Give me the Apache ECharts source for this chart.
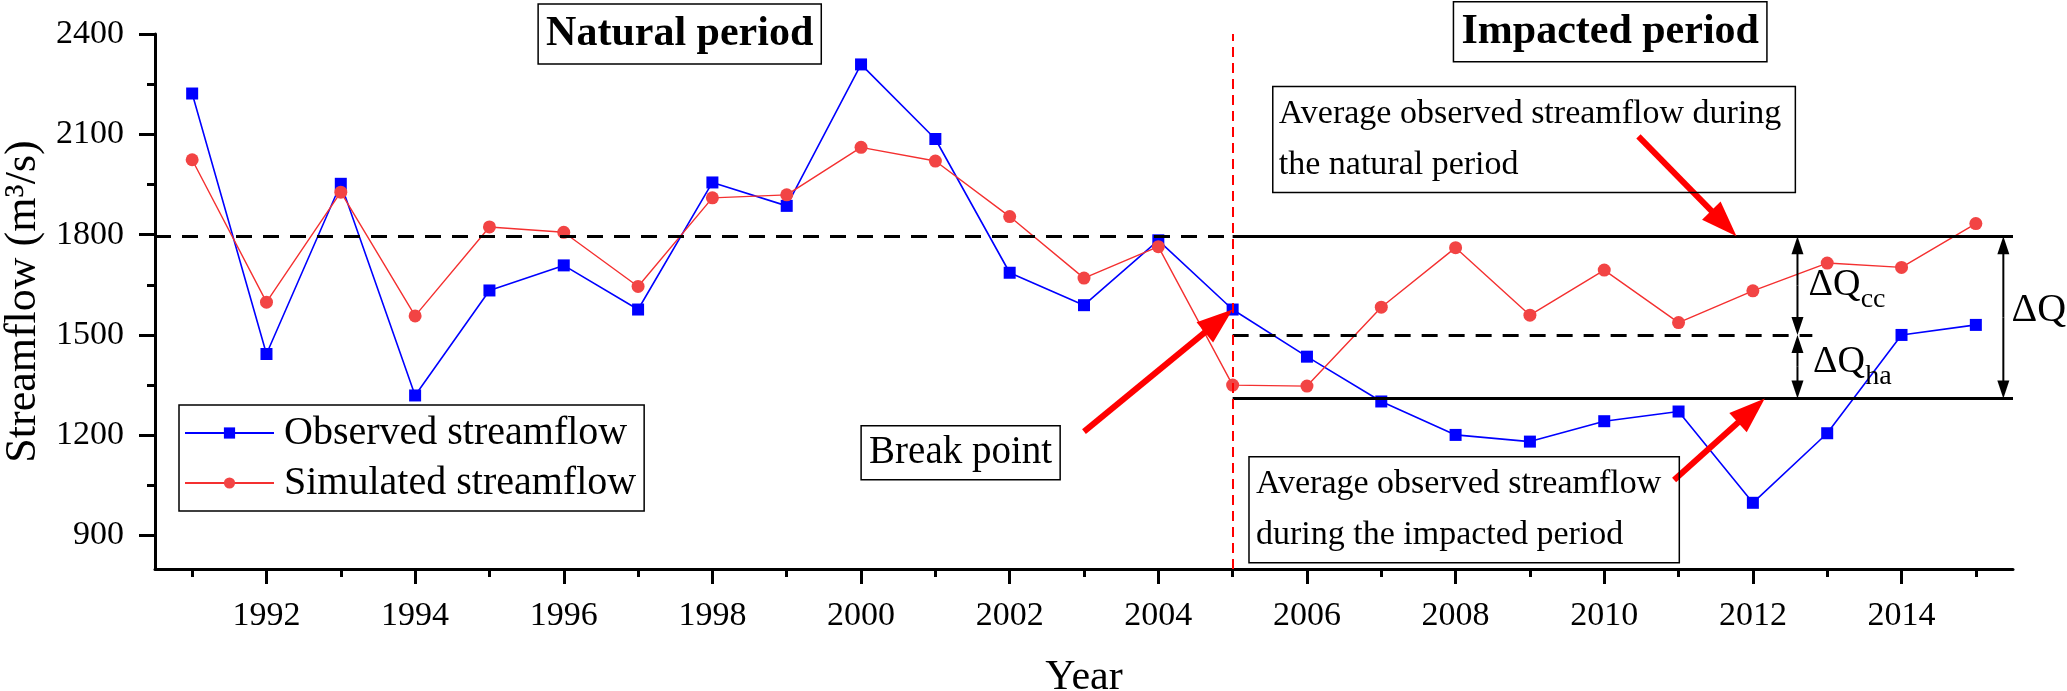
<!DOCTYPE html>
<html><head><meta charset="utf-8">
<script src="https://cdn.jsdelivr.net/npm/echarts@6/dist/echarts.min.js"></script>
<style>html,body{margin:0;padding:0;background:#fff}#c{width:2067px;height:691px}</style>
</head><body><div id="c"></div>
<script>
// ---- data ----
const years = [1991,1992,1993,1994,1995,1996,1997,1998,1999,2000,2001,2002,2003,2004,2005,2006,2007,2008,2009,2010,2011,2012,2013,2014,2015];
const observed = [2222,1443,1952,1319,1633,1708,1576,1956,1886,2309,2086,1686,1589,1783,1576,1435,1301,1201,1181,1242,1271,998,1206,1500,1530];
const simulated = [2024,1598,1927,1557,1823,1807,1645,1910,1919,2061,2020,1854,1670,1764,1350,1347,1583,1761,1559,1694,1537,1632,1715,1702,1833];
const xLabelYears = [1992,1994,1996,1998,2000,2002,2004,2006,2008,2010,2012,2014];
const xMinorYears = [1991,1993,1995,1997,1999,2001,2003,2005,2007,2009,2011,2013,2015];
const yLabelValues = [900,1200,1500,1800,2100,2400];
const yMinorValues = [1050,1350,1650,1950,2250];
const naturalMean = 1795;
const impactedMean = 1310;
const splitLevel = 1500;
const breakYear = 2005;
const xRange = [1990.5, 2015.5];
const yRange = [800, 2400];

const FONT = 'Liberation Serif';
const obsPts = years.map((y, i) => [y, observed[i]]);
const simPts = years.map((y, i) => [y, simulated[i]]);
const plain = v => String(Math.round(v));

const chart = echarts.init(document.getElementById('c'));
chart.setOption({
  animation: false,
  backgroundColor: '#fff',
  textStyle: {fontFamily: FONT, color: '#000'},
  grid: {left: 155, right: 54, top: 34, bottom: 122, containLabel: false, outerBoundsMode: 'none'},
  legend: {
    left: 179, top: 405, orient: 'vertical',
    padding: [8, 8, 8, 5], itemGap: 10,
    itemWidth: 89, itemHeight: 14,
    borderColor: '#000', borderWidth: 1.5, borderRadius: 0,
    textStyle: {fontSize: 40, fontFamily: FONT, color: '#000', lineHeight: 40, padding: [0, 0, 0, 5]},
    data: ['Observed streamflow', 'Simulated streamflow']
  },
  xAxis: [{
    type: 'value', min: xRange[0], max: xRange[1],
    name: 'Year', nameLocation: 'middle', nameGap: 88,
    nameTextStyle: {fontSize: 42, fontFamily: FONT, color: '#000'},
    axisLine: {show: true, onZero: false, lineStyle: {color: '#000', width: 3}},
    axisTick: {show: true, length: 15, lineStyle: {color: '#000', width: 3}, customValues: xLabelYears},
    axisLabel: {fontSize: 34, fontFamily: FONT, color: '#000', margin: 30, customValues: xLabelYears, formatter: plain},
    splitLine: {show: false}
  }, {
    type: 'value', min: xRange[0], max: xRange[1], position: 'bottom',
    axisLine: {show: false},
    axisTick: {show: true, length: 8, lineStyle: {color: '#000', width: 3}, customValues: xMinorYears},
    axisLabel: {show: false},
    splitLine: {show: false}
  }],
  yAxis: [{
    type: 'value', min: yRange[0], max: yRange[1],
    name: 'Streamflow (m³/s)', nameLocation: 'middle', nameGap: 105, nameRotate: 90,
    nameTextStyle: {fontSize: 44, fontFamily: FONT, color: '#000'},
    axisLine: {show: true, onZero: false, lineStyle: {color: '#000', width: 3}},
    axisTick: {show: true, length: 16, lineStyle: {color: '#000', width: 3}, customValues: yLabelValues},
    axisLabel: {fontSize: 34, fontFamily: FONT, color: '#000', margin: 31, customValues: yLabelValues, formatter: plain},
    splitLine: {show: false}
  }, {
    type: 'value', min: yRange[0], max: yRange[1], position: 'left',
    axisLine: {show: false},
    axisTick: {show: true, length: 8, lineStyle: {color: '#000', width: 3}, customValues: yMinorValues},
    axisLabel: {show: false},
    splitLine: {show: false}
  }],
  series: [{
    name: 'Observed streamflow', type: 'line', xAxisIndex: 0, yAxisIndex: 0,
    data: obsPts, symbol: 'rect', symbolSize: 12,
    itemStyle: {color: '#0000ff'}, lineStyle: {color: '#0000ff', width: 1.6},
    markLine: {
      silent: true, symbol: ['none', 'none'], label: {show: false},
      data: [
        [{coord: [xRange[0], naturalMean], lineStyle: {color: '#000', width: 3, type: [16, 11]}}, {coord: [breakYear, naturalMean]}],
        [{coord: [breakYear, naturalMean], lineStyle: {color: '#000', width: 3, type: 'solid'}}, {coord: [xRange[1], naturalMean]}],
        [{coord: [breakYear, impactedMean], lineStyle: {color: '#000', width: 3, type: 'solid'}}, {coord: [xRange[1], impactedMean]}],
        [{coord: [breakYear, splitLevel], lineStyle: {color: '#000', width: 3, type: [16, 11]}}, {coord: [2012.8, splitLevel]}],
        [{coord: [breakYear, yRange[0]], lineStyle: {color: '#ff0000', width: 2, type: [10, 6]}}, {coord: [breakYear, yRange[1]]}]
      ]
    }
  }, {
    name: 'Simulated streamflow', type: 'line', xAxisIndex: 0, yAxisIndex: 0,
    data: simPts, symbol: 'circle', symbolSize: 13,
    itemStyle: {color: '#f24444'}, lineStyle: {color: '#f43030', width: 1.4}
  }]
});

// ---- annotations (positions in data coordinates) ----
function px(p) { return chart.convertToPixel({xAxisIndex: 0, yAxisIndex: 0}, p); }
function arrow(from, to, w, headLen, headW, color) {
  const a = px(from), b = px(to);
  const dx = b[0] - a[0], dy = b[1] - a[1], L = Math.hypot(dx, dy);
  const ux = dx / L, uy = dy / L, nx = -uy, ny = ux;
  const bx = b[0] - ux * headLen, by = b[1] - uy * headLen;
  return [
    {type: 'line', silent: true, z: 20, shape: {x1: a[0], y1: a[1], x2: bx + ux * 2, y2: by + uy * 2}, style: {stroke: color, lineWidth: w}},
    {type: 'polygon', silent: true, z: 20, shape: {points: [[b[0], b[1]], [bx + nx * headW / 2, by + ny * headW / 2], [bx - nx * headW / 2, by - ny * headW / 2]]}, style: {fill: color}}
  ];
}
function dbl(x, y1, y2) {
  const mid = (y1 + y2) / 2;
  return [].concat(arrow([x, mid], [x, y1], 2, 18, 12, '#000'), arrow([x, mid], [x, y2], 2, 18, 12, '#000'));
}
function box(anchor, text, opt) {
  const p = px(anchor);
  return {
    type: 'text', silent: true, z: 30, x: p[0], y: p[1],
    style: Object.assign({
      text: text, fill: '#000', fontFamily: FONT,
      borderColor: '#000', borderWidth: 1.5
    }, opt)
  };
}
function label(anchor, main, sub, size, subSize) {
  const p = px(anchor);
  const els = [{
    type: 'text', silent: true, z: 30, x: p[0], y: p[1],
    style: {text: main, fill: '#000', fontFamily: FONT, fontSize: size, align: 'left', verticalAlign: 'middle'}
  }];
  if (sub) {
    els.push({
      type: 'text', silent: true, z: 30, x: p[0] + size * 1.37, y: p[1] + 15,
      style: {text: sub, fill: '#000', fontFamily: FONT, fontSize: subSize, align: 'left', verticalAlign: 'middle'}
    });
  }
  return els;
}

const g = [];
g.push(box([1997.56, 2400], 'Natural period', {fontSize: 42, fontWeight: 'bold', align: 'center', verticalAlign: 'middle', padding: [6, 8, 4, 8], lineHeight: 50}));
g.push(box([2010.08, 2407], 'Impacted period', {fontSize: 42, fontWeight: 'bold', align: 'center', verticalAlign: 'middle', padding: [6, 8, 4, 8], lineHeight: 50}));
g.push(box([2005.54, 2243], 'Average observed streamflow during\nthe natural period', {fontSize: 34, align: 'left', verticalAlign: 'top', padding: [2, 14, 2, 6], lineHeight: 51}));
g.push(box([2005.22, 1136], 'Average observed streamflow\nduring the impacted period', {fontSize: 34, align: 'left', verticalAlign: 'top', padding: [2, 18, 2, 7], lineHeight: 51}));
g.push(box([2001.34, 1148], 'Break point', {fontSize: 39, align: 'center', verticalAlign: 'middle', padding: [6, 8, 4, 8], lineHeight: 44}));

g.push(...arrow([2003.0, 1211], [breakYear, observed[years.indexOf(breakYear)]], 6, 36, 26, '#ff0000'));
g.push(...arrow([2010.46, 2094], [2011.78, naturalMean], 6, 36, 26, '#ff0000'));
g.push(...arrow([2010.94, 1066], [2012.16, impactedMean], 6, 36, 26, '#ff0000'));

g.push(...dbl(2012.6, naturalMean, splitLevel));
g.push(...dbl(2012.6, splitLevel, impactedMean));
g.push(...dbl(2015.37, naturalMean, impactedMean));

g.push(...label([2012.75, 1650], 'ΔQ', 'cc', 38, 28));
g.push(...label([2012.81, 1420], 'ΔQ', 'ha', 38, 28));
g.push(...label([2015.48, 1572], 'ΔQ', null, 40, 28));

chart.setOption({graphic: g});
</script>
</body></html>
